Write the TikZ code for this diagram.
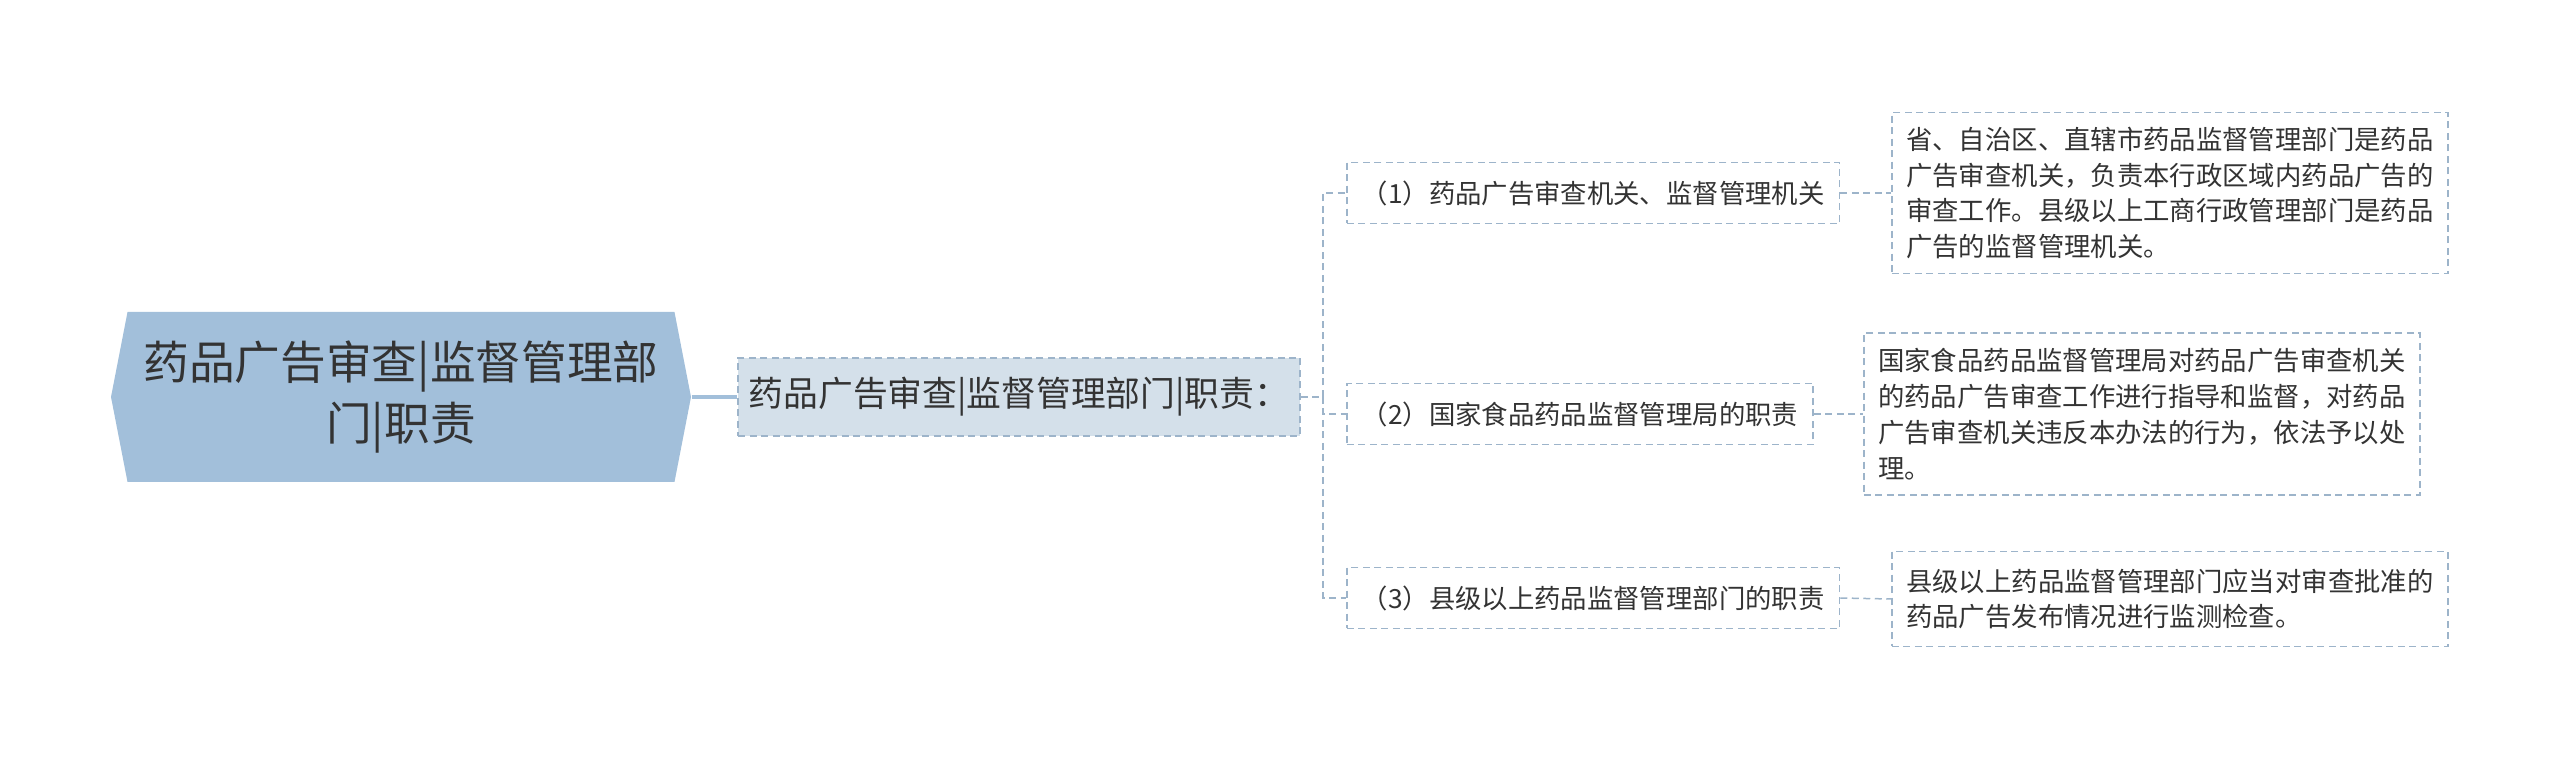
\documentclass[tikz,border=0pt]{standalone}
\usepackage{fontspec}
\setmainfont{Noto Sans CJK SC}
\usetikzlibrary{positioning, shapes.symbols, calc}
\definecolor{rootblue}{HTML}{A2BFDA}
\definecolor{midfill}{HTML}{D4E0EA}
\definecolor{edgeblue}{HTML}{9DB4CA}
\definecolor{inkgrey}{HTML}{333333}
\tikzset{
  sline/.style={draw=rootblue, line width=0.35mm},
  dline/.style={draw=edgeblue, line width=0.15mm, dash pattern=on 0.7mm off 0.45mm},
  rootbox/.style={signal, signal to=west and east, signal pointer angle=158, fill=rootblue,
    text=inkgrey, minimum width=58mm, minimum height=17mm, align=center, inner sep=0pt,
    font=\fontsize{13}{17.6}\selectfont},
  midbox/.style={dline, fill=midfill, text=inkgrey, minimum width=56.2mm, minimum height=7.8mm,
    inner sep=0pt, font=\fontsize{9.9}{12}\selectfont},
  itembox/.style={dline, fill=white, text=inkgrey, anchor=west, minimum height=6.1mm,
    inner xsep=1.5mm, inner ysep=0pt, font=\fontsize{7.5}{9}\selectfont},
  notebox/.style={dline, fill=white, text=inkgrey, anchor=west, align=left,
    inner xsep=1.45mm, inner ysep=0.8mm, font=\fontsize{7.5}{10.2}\selectfont}
}
\begin{document}
\begin{tikzpicture}
\useasboundingbox (0,0) rectangle (256mm,-76mm);
% root and main branch
\node[rootbox] (root) at (40.1mm,-39.7mm) {药品广告审查|监督管理部\\门|职责};
\node[midbox] (duty) at (101.9mm,-39.7mm) {药品广告审查|监督管理部门|职责：};
\draw[sline] (root.east) -- (duty.west);
% second level
\node[itembox] (organ) at (134.6mm,-19.3mm) {（1）药品广告审查机关、监督管理机关};
\node[itembox] (sfda) at (134.6mm,-41.4mm) {（2）国家食品药品监督管理局的职责};
\node[itembox] (county) at (134.6mm,-59.8mm) {（3）县级以上药品监督管理部门的职责};
\coordinate (trunk) at (132.3mm,-39.7mm);
\draw[dline] (duty.east) -- (trunk);
\foreach \n in {organ, sfda, county}
  \draw[dline] (trunk) |- (\n.west);
% notes
\node[notebox, minimum height=16.1mm] (organnote) at (189.1mm,-19.3mm)
  {省、自治区、直辖市药品监督管理部门是药品\\
   广告审查机关，负责本行政区域内药品广告的\\
   审查工作。县级以上工商行政管理部门是药品\\
   广告的监督管理机关。};
\node[notebox, minimum height=16.2mm] (sfdanote) at (186.3mm,-41.4mm)
  {国家食品药品监督管理局对药品广告审查机关\\
   的药品广告审查工作进行指导和监督，对药品\\
   广告审查机关违反本办法的行为，依法予以处\\
   理。};
\node[notebox, minimum height=9.5mm] (countynote) at (189.1mm,-59.9mm)
  {县级以上药品监督管理部门应当对审查批准的\\
   药品广告发布情况进行监测检查。};
\draw[dline] (organ.east) -- (organnote.west);
\draw[dline] (sfda.east) -- (sfdanote.west);
\draw[dline] (county.east) -- (countynote.west);
\end{tikzpicture}
\end{document}
